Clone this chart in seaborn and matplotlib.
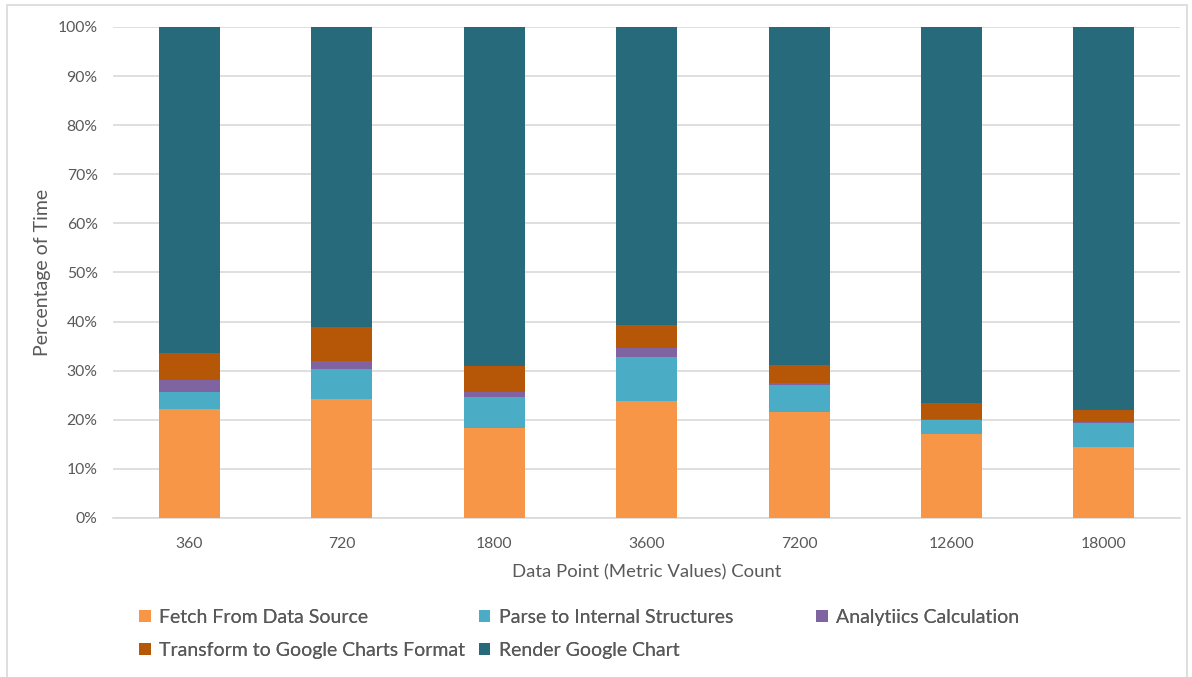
import numpy as np
import pandas as pd
import matplotlib
matplotlib.use("Agg")
import matplotlib.pyplot as plt
import seaborn as sns
from matplotlib.patches import Patch, Rectangle
from matplotlib.ticker import PercentFormatter, FixedLocator

# data (percent of total time per stage)
counts = ["360", "720", "1800", "3600", "7200", "12600", "18000"]
fetch = [22.2, 24.3, 18.3, 23.9, 21.5, 17.1, 14.5]
parse = [3.5, 6.1, 6.4, 8.8, 5.6, 2.9, 4.9]
analytics = [2.3, 1.5, 1.0, 2.0, 0.3, 0.1, 0.2]
transform = [5.6, 7.0, 5.2, 4.5, 3.8, 3.3, 2.3]
render = [66.4, 61.1, 69.1, 60.8, 68.8, 76.6, 78.1]

stages = ["Fetch From Data Source", "Parse to Internal Structures", "Analytiics Calculation",
          "Transform to Google Charts Format", "Render Google Chart"]
colors = ["#F79646", "#4BACC6", "#8064A2", "#B65708", "#276A7C"]

sns.set_style("white")
plt.rcParams["font.family"] = ["Lato", "DejaVu Sans"]
text_color = "#595959"
grid_color = "#D9D9D9"

df = pd.DataFrame({"count": counts})
layers = [fetch, parse, analytics, transform, render]
cum = np.cumsum(np.array(layers), axis=0)

fig = plt.figure(figsize=(11.92, 6.77), dpi=100)
ax = fig.add_axes([0.0948, 0.2349, 0.8953, 0.7253])

# draw tallest cumulative first so smaller stacks sit on top
for i in range(len(layers) - 1, -1, -1):
    df["val"] = cum[i]
    sns.barplot(data=df, x="count", y="val", color=colors[i], width=0.4,
                saturation=1, linewidth=0, ax=ax, zorder=3)

ax.set_xlim(-0.5, len(counts) - 0.5)
ax.set_ylim(0, 100)
ax.yaxis.set_major_locator(FixedLocator(np.arange(0, 101, 10)))
ax.yaxis.set_major_formatter(PercentFormatter(decimals=0))
ax.grid(axis="y", color=grid_color, linewidth=1.2, zorder=0)
ax.set_axisbelow(True)

for s in ["top", "right", "left"]:
    ax.spines[s].set_visible(False)
ax.spines["bottom"].set_color(grid_color)
ax.spines["bottom"].set_linewidth(1.2)

ax.tick_params(axis="y", length=0, pad=11, labelsize=11.3, labelcolor=text_color)
ax.tick_params(axis="x", which="major", length=0, pad=14, labelsize=11.3, labelcolor=text_color)
ax.set_xticks(np.arange(-0.5, len(counts), 1.0), minor=True)
ax.tick_params(axis="x", which="minor", length=5, width=1.2, color=grid_color, direction="out")

ax.set_xlabel("Data Point (Metric Values) Count", fontsize=13.3, color=text_color, labelpad=9)
ax.set_ylabel("Percentage of Time", fontsize=14, color=text_color, labelpad=5)

# legend: three fixed-width columns like the original
handles = [Patch(facecolor=c, edgecolor="none", label=l) for c, l in zip(colors, stages)]
columns = [([0, 3], 0.110), ([1, 4], 0.395), ([2], 0.678)]
for idx, x0 in columns:
    leg = fig.legend([handles[i] for i in idx], [stages[i] for i in idx],
                     loc="upper left", bbox_to_anchor=(x0, 0.112), ncol=1, frameon=False,
                     fontsize=14, handlelength=0.6, handleheight=0.6, handletextpad=0.45,
                     labelspacing=0.82, borderaxespad=0)
    for t in leg.get_texts():
        t.set_color(text_color)
    fig.add_artist(leg)

# outer chart border
fig.patches.append(Rectangle((0.006, -0.01), 0.99, 1.003, transform=fig.transFigure,
                             fill=False, edgecolor=grid_color, linewidth=1.2))

fig.savefig("out.png", dpi=100, facecolor="white")
